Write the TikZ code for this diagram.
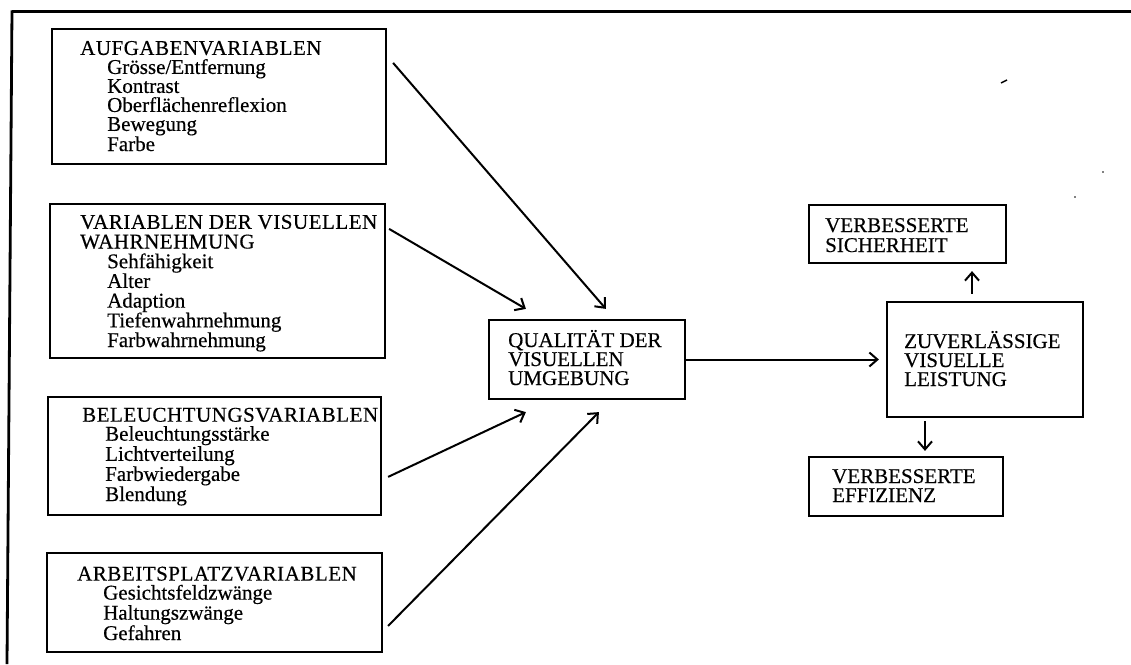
\documentclass[tikz,border=0pt]{standalone}
\usepackage{fontspec}
\setmainfont{Liberation Serif}[UprightFeatures={FakeBold=0.4}]
\usetikzlibrary{arrows.meta,calc}
\newcommand{\itemind}[1]{\hspace*{#1pt}}
\newfontfamily\capsfont{Liberation Serif}[FakeBold=0.4,LetterSpace=2.5]
\begin{document}
\begin{tikzpicture}[x=1pt,y=-1pt,
  box/.style={draw,line width=2.2pt,rectangle,inner sep=0pt},
  txt/.style={anchor=base west,inner sep=0pt,align=left,font=\fontsize{21}{19}\selectfont},
  arr/.style={line width=2pt,-{Straight Barb[length=8pt,width=14pt,line width=2pt]}}]
\useasboundingbox (0,0) rectangle (1131,664);
% frame
\draw[line width=3pt] (12,11.5) -- (1131,11.5);
\draw[line width=2.8pt] (12,10.5) -- (7,664);
% boxes
\node[box,minimum width=334pt,minimum height=135pt] (b1) at (219,96.5) {};
\node[box,minimum width=335pt,minimum height=154pt] (b2) at (217.5,281) {};
\node[box,minimum width=333pt,minimum height=118pt] (b3) at (214.5,456) {};
\node[box,minimum width=335pt,minimum height=99pt] (b4) at (214.5,602.5) {};
\node[box,minimum width=196pt,minimum height=79pt] (Q) at (587,359.5) {};
\node[box,minimum width=196pt,minimum height=115pt] (Z) at (985,359.5) {};
\node[box,minimum width=197pt,minimum height=58pt] (S) at (907.5,234) {};
\node[box,minimum width=194pt,minimum height=59pt] (E) at (906,486.5) {};
% texts (anchored at the baseline of their last line)
\node[txt] (t1) at (80,151) {{\capsfont AUFGABENVARIABLEN}\\
 \itemind{27}Grösse/Entfernung\\
 \itemind{27}Kontrast\\
 \itemind{27}Oberflächenreflexion\\
 \itemind{27}Bewegung\\
 \itemind{27}Farbe};
\node[txt,font=\fontsize{21}{19.7}\selectfont] (t2) at (80,347) {{\capsfont VARIABLEN DER VISUELLEN}\\
 {\capsfont WAHRNEHMUNG}\\
 \itemind{27}Sehfähigkeit\\
 \itemind{27}Alter\\
 \itemind{27}Adaption\\
 \itemind{27}Tiefenwahrnehmung\\
 \itemind{27}Farbwahrnehmung};
\node[txt,font=\fontsize{21}{19}\selectfont] (t3) at (82,501) {{\capsfont BELEUCHTUNGSVARIABLEN}\\
 \itemind{23}Beleuchtungsstärke\\
 \itemind{23}Lichtverteilung\\
 \itemind{23}Farbwiedergabe\\
 \itemind{23}Blendung};
\node[txt,font=\fontsize{21}{19}\selectfont] (t4) at (77,640) {{\capsfont ARBEITSPLATZVARIABLEN}\\
 \itemind{26}Gesichtsfeldzwänge\\
 \itemind{26}Haltungszwänge\\
 \itemind{26}Gefahren};
\node[txt] (tq) at (508,385) {QUALITÄT DER\\VISUELLEN\\UMGEBUNG};
\node[txt] (tz) at (904,386) {ZUVERLÄSSIGE\\VISUELLE\\LEISTUNG};
\node[txt,font=\fontsize{21}{20}\selectfont] (ts) at (825,252) {VERBESSERTE\\SICHERHEIT};
\node[txt] (te) at (832,502) {VERBESSERTE\\EFFIZIENZ};
% connectors
\draw[arr] ([shift={(6,35)}]b1.north east) -- ([shift={(118,-10)}]Q.north west);
\draw[arr] ([shift={(3,26)}]b2.north east) -- ([shift={(38,-10)}]Q.north west);
\draw[arr] ([shift={(6,81)}]b3.north east) -- ([shift={(38,12)}]Q.south west);
\draw[arr] ([shift={(5,74)}]b4.north east) -- ([shift={(111,12)}]Q.south west);
\draw[arr] (Q.east) -- ([xshift=-7pt]Z.west);
\draw[arr] ([shift={(-13,-7)}]Z.north) -- ([shift={(64.5,7)}]S.south);
\draw[arr] ([shift={(-60,3)}]Z.south) -- ([shift={(19,-5)}]E.north);
% stray marks
\draw[line width=1.5pt] (1001,83) -- (1007,80);
\fill (1103,172) circle (0.8);
\fill (1075,197) circle (0.8);
\end{tikzpicture}
\end{document}
